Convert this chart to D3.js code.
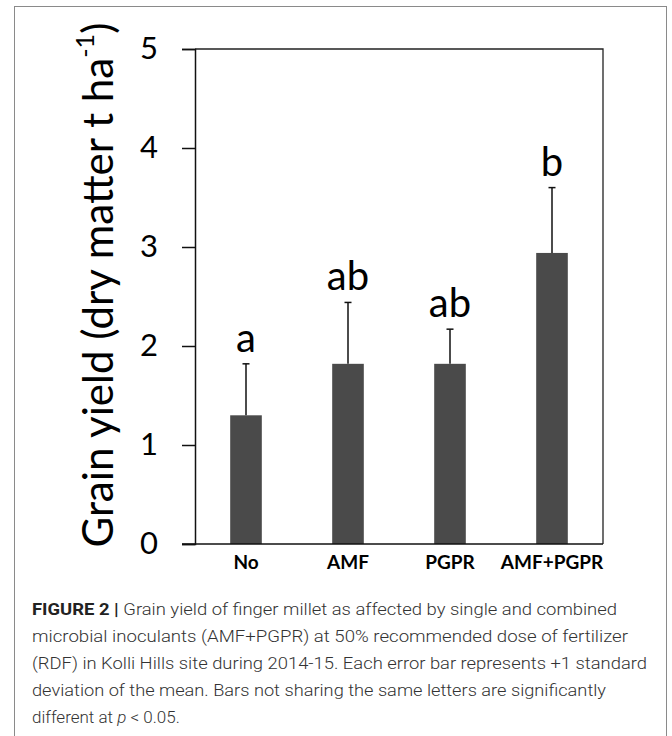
<!DOCTYPE html>
<html>
<head>
<meta charset="utf-8">
<script src="https://cdn.jsdelivr.net/npm/d3@7"></script>
<style>
  html, body { margin: 0; padding: 0; background: #fff; }
  svg { display: block; }
</style>
</head>
<body>
<svg id="chart" width="672" height="736"></svg>
<script>
// ---- data ----
const categories = ["No", "AMF", "PGPR", "AMF+PGPR"];
const means = [1.30, 1.82, 1.82, 2.94];
const errors = [0.52, 0.62, 0.35, 0.66];   // +1 SD
const letters = ["a", "ab", "ab", "b"];
const yTicks = [0, 1, 2, 3, 4, 5];
const yTitle = "Grain yield (dry matter t ha";
const yTitleSup = "-1";
const captionBold = "FIGURE 2 | ";
const captionLines = [
  "Grain yield of finger millet as affected by single and combined",
  "microbial inoculants (AMF+PGPR) at 50% recommended dose of fertilizer",
  "(RDF) in Kolli Hills site during 2014-15. Each error bar represents +1 standard",
  "deviation of the mean. Bars not sharing the same letters are significantly",
  "different at "
];

// ---- layout ----
const svg = d3.select("#chart");
const chartFont = "Lato, 'Open Sans', sans-serif";
const capFont = "Roboto, 'Liberation Sans', sans-serif";
const plot = { left: 195, right: 603, top: 49, bottom: 544 };

// outer frame
svg.append("rect")
  .attr("x", 14.5).attr("y", 6.5)
  .attr("width", 652).attr("height", 780)
  .attr("fill", "none").attr("stroke", "#8a8a8a").attr("stroke-width", 1);

const x = d3.scaleBand().domain(categories).range([plot.left, plot.right]).padding(0);
const y = d3.scaleLinear().domain([0, 5]).range([plot.bottom, plot.top]);
const barW = x.bandwidth() * 0.31;

// plot box (top and right)
svg.append("path")
  .attr("d", `M${plot.left},${plot.top}H${plot.right}V${plot.bottom}`)
  .attr("fill", "none").attr("stroke", "#222").attr("stroke-width", 1.3);

// bars
svg.append("g").selectAll("rect").data(categories).join("rect")
  .attr("x", d => x(d) + x.bandwidth() / 2 - barW / 2)
  .attr("width", barW)
  .attr("y", (d, i) => y(means[i]))
  .attr("height", (d, i) => y(0) - y(means[i]))
  .attr("fill", "#4a4a4a");

// error bars
const eg = svg.append("g").attr("stroke", "#111").attr("stroke-width", 1.5);
categories.forEach((c, i) => {
  const cx = x(c) + x.bandwidth() / 2;
  eg.append("line").attr("x1", cx).attr("x2", cx)
    .attr("y1", y(means[i])).attr("y2", y(means[i] + errors[i]));
  eg.append("line").attr("x1", cx - 3.5).attr("x2", cx + 3.5)
    .attr("y1", y(means[i] + errors[i])).attr("y2", y(means[i] + errors[i]));
});

// significance letters
svg.append("g").selectAll("text").data(categories).join("text")
  .attr("x", d => x(d) + x.bandwidth() / 2)
  .attr("y", (d, i) => y(means[i] + errors[i]) - 12)
  .attr("text-anchor", "middle")
  .attr("font-family", chartFont).attr("font-size", 40)
  .attr("fill", "#000")
  .text((d, i) => letters[i]);

// y axis
const yAxis = d3.axisLeft(y).tickValues(yTicks).tickFormat(d3.format("d"))
  .tickSize(13).tickPadding(24);
const yg = svg.append("g").attr("transform", `translate(${plot.left},0)`).call(yAxis);
yg.select(".domain").attr("stroke", "#111").attr("stroke-width", 1.5);
yg.selectAll(".tick line").attr("stroke", "#111").attr("stroke-width", 1.5);
yg.selectAll(".tick text").attr("font-family", chartFont).attr("font-size", 31).attr("fill", "#000");

// x axis
const xAxis = d3.axisBottom(x).tickSize(0).tickPadding(12);
const xg = svg.append("g").attr("transform", `translate(0,${plot.bottom})`).call(xAxis);
xg.select(".domain").attr("stroke", "#111").attr("stroke-width", 1.5)
  .attr("d", `M${plot.left - 13},0H${plot.right}`);
xg.selectAll(".tick text").attr("font-family", chartFont).attr("font-weight", "bold")
  .attr("font-size", 19).attr("fill", "#000").attr("dy", "0.71em");

// y title
const title = svg.append("text")
  .attr("transform", "translate(113,285) rotate(-90)")
  .attr("text-anchor", "middle")
  .attr("font-family", chartFont).attr("font-size", 40).attr("fill", "#000");
title.append("tspan").text(yTitle);
title.append("tspan").attr("font-size", "0.6em").attr("dy", "-0.75em").text(yTitleSup);
title.append("tspan").attr("dy", "0.45em").text(")");
{
  let fs = 40;
  for (let k = 0; k < 3; k++) {
    const len = title.node().getComputedTextLength();
    fs = fs * 525 / len;
    title.attr("font-size", fs);
  }
}

// caption
const capY = [615, 642, 669, 696, 723];
const capW = [585, 596, 615, 574, 0];
const cap = svg.append("g").attr("font-family", capFont).attr("font-size", 17).attr("fill", "#333");
captionLines.forEach((line, i) => {
  const t = cap.append("text").attr("x", 32).attr("y", capY[i]);
  if (i === 0) {
    t.append("tspan").attr("font-weight", "bold").attr("fill", "#222").text(captionBold);
  }
  t.append("tspan").attr("font-weight", 300).text(line);
  if (i === 4) {
    t.append("tspan").attr("font-style", "italic").attr("font-weight", 300).text("p");
    t.append("tspan").attr("font-weight", 300).text(" < 0.05.");
  }
  if (capW[i] > 0) t.attr("textLength", capW[i]).attr("lengthAdjust", "spacingAndGlyphs");
});
</script>
</body>
</html>
